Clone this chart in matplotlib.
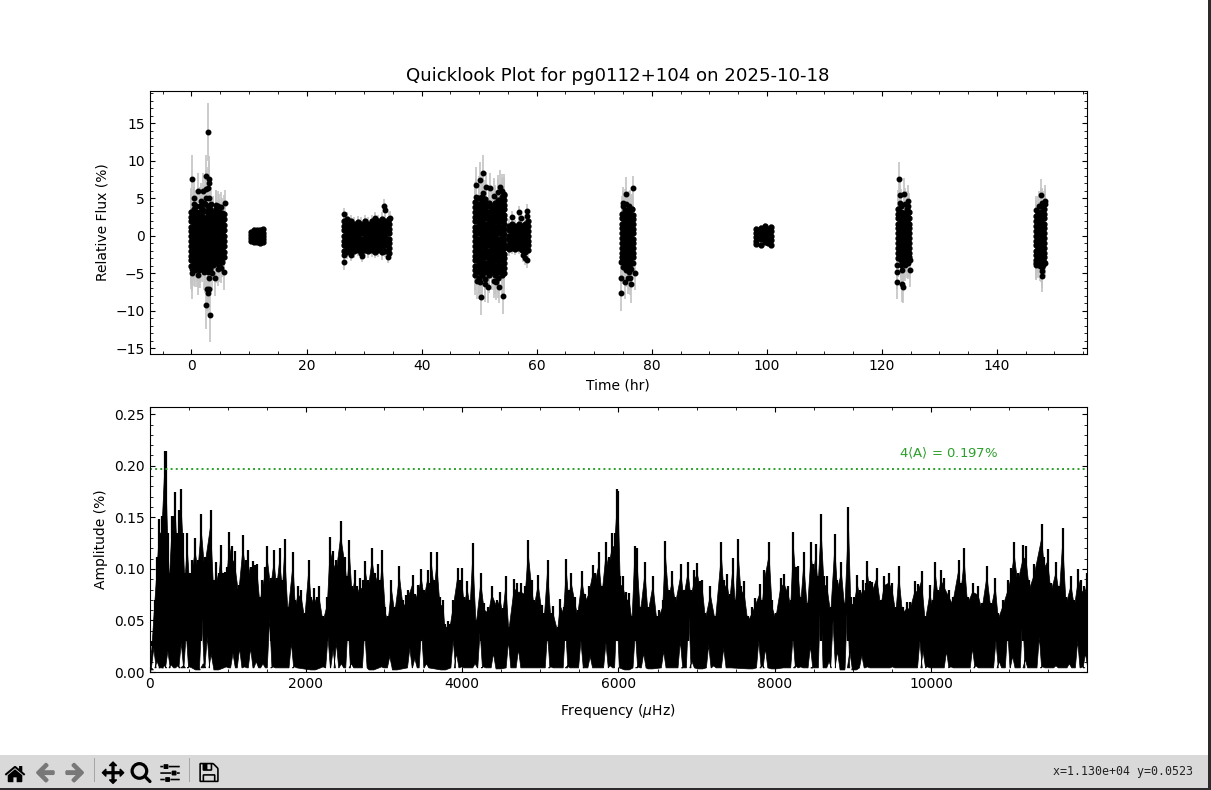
import os
import matplotlib
matplotlib.use('Agg')
import matplotlib.pyplot as plt
import matplotlib.image as mpimg
import numpy as np
from matplotlib.patches import Rectangle
from matplotlib.ticker import AutoMinorLocator

# Light curve (time column, fluxes in it, error in it)
r1_t = [0.0, 0.5, 1.0, 1.4, 1.9, 2.4, 2.9, 3.3, 3.8, 4.3, 4.8, 5.3, 5.7]
r1_e = [3.1, 2.4, 2.9, 2.6, 2.2, 3.3, 3.4, 2.5, 2.1, 2.6, 2.3, 2.0, 2.5]
r1_f = [
    [3.2, 2.5, 1.9, 1.2, 0.6, -0.1, -0.7, -1.4, -2.0, -2.7, -3.3, -4.0],
    [3.5, 2.9, 2.2, 1.6, 0.9, 0.3, -0.4, -1.0, -1.7, -2.3, -3.0, -3.6, -4.3],
    [3.2, 2.6, 1.9, 1.3, 0.6, 0.0, -0.7, -1.3, -2.0, -2.6, -3.3, -4.0],
    [3.9, 3.2, 2.2, 1.6, 0.9, 0.3, -0.4, -1.1, -1.7, -2.4, -3.0, -3.7, -4.4],
    [3.5, 2.6, 1.9, 1.3, 0.7, 0.0, -0.6, -1.3, -1.9, -2.6, -3.3, -4.0],
    [4.2, 3.3, 2.3, 1.6, 1.0, 0.3, -0.3, -1.0, -1.6, -2.3, -2.9, -3.6, -4.3],
    [4.0, 3.2, 2.6, 1.9, 1.3, 0.6, 0.0, -0.7, -1.3, -2.0, -2.6, -3.3, -3.9],
    [3.6, 2.9, 2.2, 1.6, 0.9, 0.3, -0.4, -1.0, -1.7, -2.3, -3.0, -3.6, -4.4],
    [3.2, 2.6, 1.9, 1.3, 0.6, 0.0, -0.7, -1.3, -2.0, -2.6, -3.3, -3.9],
    [3.5, 2.9, 2.2, 1.6, 0.9, 0.3, -0.4, -1.0, -1.7, -2.3, -3.0, -3.7],
    [3.2, 2.6, 1.9, 1.3, 0.6, 0.0, -0.7, -1.3, -2.0, -2.6, -3.3, -3.9],
    [3.0, 2.3, 1.7, 1.0, 0.4, -0.3, -0.9, -1.6, -2.2, -2.9, -3.5],
    [2.9, 2.2, 1.4, 0.7, 0.0, -0.7, -1.4, -2.2, -2.9],
]
r2_t = [10.4, 10.9, 11.4, 11.9, 12.4]
r2_e = [0.3, 0.3, 0.3, 0.3, 0.3]
r2_f = [
    [0.5, 0.1, -0.3, -0.7],
    [0.8, 0.4, -0.1, -0.6, -0.9],
    [0.7, 0.3, -0.1, -0.5, -0.8],
    [0.8, 0.3, 0.0, -0.5, -1.0],
    [0.9, 0.4, 0.0, -0.4, -0.9],
]
r3_t = [26.5, 27.1, 27.7, 28.3, 28.9, 29.5, 30.1, 30.7, 31.3, 31.9, 32.5, 33.1, 33.7, 34.3]
r3_e = [1.0, 0.9, 0.8, 0.9, 0.8, 0.9, 0.8, 0.9, 0.9, 0.8, 0.9, 1.0, 0.9, 0.9]
r3_f = [
    [2.0, 1.3, 0.7, 0.0, -0.7, -1.3, -2.0],
    [2.2, 1.6, 1.0, 0.3, -0.3, -1.0, -1.6, -2.2],
    [1.9, 1.3, 0.6, 0.0, -0.7, -1.3, -1.9],
    [1.6, 1.0, 0.3, -0.3, -1.0, -1.6, -2.1],
    [1.8, 1.2, 0.6, 0.0, -0.7, -1.3, -1.9],
    [1.6, 0.9, 0.3, -0.4, -1.0, -1.6, -2.3],
    [1.9, 1.3, 0.6, 0.0, -0.7, -1.3, -1.9],
    [1.6, 1.0, 0.3, -0.3, -1.0, -1.6, -2.1],
    [1.9, 1.3, 0.6, 0.0, -0.6, -1.3, -1.9],
    [2.2, 1.6, 0.9, 0.3, -0.4, -1.0, -1.6, -2.2],
    [1.9, 1.3, 0.6, 0.0, -0.7, -1.3, -1.9],
    [2.2, 1.6, 1.0, 0.3, -0.3, -1.0, -1.6, -2.2],
    [1.9, 1.3, 0.6, 0.0, -0.7, -1.3, -2.0],
    [2.2, 1.6, 0.9, 0.3, -0.4, -1.0, -1.7, -2.3],
]
r4_t = [49.3, 49.9, 50.5, 51.1, 51.7, 52.2, 52.8, 53.3, 53.9, 54.4]
r4_e = [2.6, 2.9, 3.0, 2.5, 2.4, 2.3, 2.5, 2.7, 2.6, 2.8]
r4_f = [
    [4.5, 3.8, 3.2, 2.5, 1.9, 1.2, 0.6, -0.1, -0.7, -1.4, -2.0, -2.7, -3.3, -4.0, -4.6, -5.3],
    [5.0, 4.2, 3.5, 2.9, 2.2, 1.6, 0.9, 0.3, -0.4, -1.0, -1.7, -2.3, -3.0, -3.6, -4.3, -4.9, -5.6],
    [5.2, 4.5, 3.9, 3.2, 2.6, 1.9, 1.3, 0.6, 0.0, -0.7, -1.3, -2.0, -2.6, -3.3, -3.9, -4.6, -5.3],
    [4.9, 4.2, 3.6, 2.9, 2.3, 1.6, 1.0, 0.3, -0.3, -1.0, -1.6, -2.3, -2.9, -3.6, -4.2, -4.9, -5.8],
    [4.4, 3.9, 3.2, 2.6, 1.9, 1.3, 0.6, 0.0, -0.7, -1.3, -2.0, -2.6, -3.3, -3.9, -4.6, -5.2],
    [4.0, 3.5, 2.9, 2.2, 1.6, 0.9, 0.3, -0.4, -1.0, -1.7, -2.3, -3.0, -3.6, -4.3, -4.9],
    [4.3, 3.8, 3.2, 2.5, 1.9, 1.2, 0.6, -0.1, -0.7, -1.4, -2.0, -2.7, -3.3, -4.0, -4.6, -5.3],
    [4.8, 4.2, 3.5, 2.9, 2.2, 1.6, 0.9, 0.3, -0.4, -1.0, -1.7, -2.3, -3.0, -3.6, -4.3, -4.9, -5.6],
    [5.1, 4.5, 3.8, 3.2, 2.5, 1.9, 1.2, 0.6, -0.1, -0.7, -1.4, -2.0, -2.7, -3.3, -4.0, -4.6, -5.2],
    [5.4, 4.8, 4.1, 3.5, 2.8, 2.2, 1.5, 0.9, 0.2, -0.4, -1.1, -1.7, -2.4, -3.0, -3.7, -4.3, -5.0],
]
r4b_t = [55.1, 55.7, 56.3, 56.9, 57.5, 58.0, 58.5]
r4b_e = [0.9, 0.8, 0.8, 0.9, 0.8, 0.9, 0.9]
r4b_f = [
    [1.3, 0.7, 0.0, -0.6, -1.3, -1.8],
    [1.6, 1.0, 0.3, -0.3, -1.0, -1.6],
    [1.3, 0.6, 0.0, -0.7, -1.3, -1.8],
    [1.6, 1.0, 0.3, -0.3, -1.0, -1.6],
    [1.3, 0.6, 0.0, -0.7, -1.3, -1.9],
    [1.6, 1.0, 0.3, -0.3, -1.0, -1.6, -2.2],
    [1.9, 1.3, 0.6, 0.0, -0.7, -1.3, -1.9],
]
r5_t = [74.8, 75.3, 75.8, 76.3, 76.8]
r5_e = [2.4, 2.8, 2.5, 2.7, 2.4]
r5_f = [
    [2.9, 2.3, 1.6, 1.0, 0.3, -0.3, -1.0, -1.6, -2.3, -2.9, -3.4],
    [3.4, 2.6, 1.9, 1.3, 0.6, 0.0, -0.7, -1.3, -2.0, -2.6, -3.3, -3.9],
    [3.3, 2.9, 2.3, 1.6, 1.0, 0.3, -0.3, -1.0, -1.6, -2.3, -2.9, -3.6, -4.2],
    [3.4, 2.6, 1.9, 1.3, 0.6, 0.0, -0.7, -1.3, -2.0, -2.6, -3.3, -3.8],
    [2.8, 2.2, 1.6, 0.9, 0.3, -0.4, -1.0, -1.7, -2.3, -2.9],
]
r6_t = [98.2, 98.9, 99.6, 100.2, 100.8]
r6_e = [0.4, 0.4, 0.4, 0.4, 0.4]
r6_f = [
    [0.9, 0.4, -0.2, -0.7, -1.1],
    [1.0, 0.5, 0.0, -0.5, -1.2],
    [1.3, 0.7, 0.1, -0.4, -0.9],
    [0.9, 0.4, -0.1, -0.6, -1.0],
    [1.2, 0.6, 0.0, -0.6, -1.2],
]
r7_t = [122.8, 123.3, 123.8, 124.3, 124.7]
r7_e = [2.5, 2.3, 2.6, 2.4, 2.6]
r7_f = [
    [3.6, 2.9, 2.3, 1.6, 1.0, 0.3, -0.3, -1.0, -1.6, -2.3, -3.0],
    [3.9, 3.2, 2.6, 1.9, 1.3, 0.6, 0.0, -0.7, -1.3, -2.0, -2.6, -3.3],
    [3.0, 2.3, 1.6, 1.0, 0.3, -0.3, -1.0, -1.6, -2.3, -2.9, -3.5],
    [3.5, 2.6, 1.9, 1.3, 0.6, 0.0, -0.7, -1.3, -2.0, -2.6, -3.2],
    [3.1, 2.3, 1.6, 1.0, 0.3, -0.3, -1.0, -1.6, -2.3, -2.9],
]
r8_t = [146.7, 147.2, 147.7, 148.2]
r8_e = [2.2, 2.1, 2.4, 2.3]
r8_f = [
    [2.6, 1.9, 1.3, 0.6, 0.0, -0.7, -1.3, -2.0, -2.6, -3.3, -3.7],
    [3.2, 2.3, 1.6, 1.0, 0.3, -0.3, -1.0, -1.6, -2.3, -2.9, -3.5],
    [3.9, 3.1, 2.6, 1.9, 1.3, 0.6, 0.0, -0.7, -1.3, -2.0, -2.6, -3.3, -3.8],
    [3.6, 2.9, 2.3, 1.6, 1.0, 0.3, -0.3, -1.0, -1.6, -2.3, -2.9, -3.5],
]
runs = [(r1_t, r1_f, r1_e), (r2_t, r2_f, r2_e), (r3_t, r3_f, r3_e), (r4_t, r4_f, r4_e),
        (r4b_t, r4b_f, r4b_e), (r5_t, r5_f, r5_e), (r6_t, r6_f, r6_e), (r7_t, r7_f, r7_e),
        (r8_t, r8_f, r8_e)]

# Points outside the dense part of each run
out_t = [0.05, 2.84, 2.55, 3.0, 3.0, 1.1, 1.97, 2.55, 2.84, 5.74, 0.4, 3.0, 4.3,
         0.05, 0.05, 1.1, 5.57, 4.0, 2.96, 3.1, 2.65, 2.84, 2.55, 3.18,
         26.5, 26.5, 26.5, 33.4, 33.6, 31.9, 27.7, 29.6, 34.1, 34.5,
         49.4, 50.1, 50.7, 51.2, 51.8, 53.7, 54.3, 50.4, 54.1, 51.5, 53.4,
         55.7, 56.9, 57.2, 58.3, 58.4, 57.6, 58.4, 58.0,
         76.8, 75.6, 75.0, 76.6, 74.7, 76.4, 77.0, 74.7, 75.3, 75.9, 76.3, 74.7, 75.6,
         123.0, 123.1, 123.9, 124.6, 122.7, 122.7, 123.5, 124.9, 124.8, 122.6, 123.5, 123.7,
         147.7, 148.4, 147.9, 147.9, 147.9]
out_f = [7.5, 13.8, 7.9, 7.6, 7.0, 5.9, 5.9, 6.2, 6.4, 4.3, 5.0, 5.0, 4.1,
         -5.0, -4.4, -5.2, -4.8, -5.7, -5.7, -7.1, -7.1, -7.6, -9.2, -10.6,
         2.9, -3.5, -2.6, 4.0, 3.4, 2.4, -2.6, -2.7, -2.8, 2.4,
         6.7, 7.4, 8.4, 6.5, 6.3, 6.5, 5.6, -8.2, -8.0, -6.9, -6.8,
         2.5, 3.1, 2.4, 3.3, 2.6, -2.6, -3.3, -3.0,
         6.3, 5.6, 4.3, 3.5, -7.7, -6.5, -5.0, -5.7, -6.2, -5.7, -5.7, -3.5, -4.4,
         7.6, 5.4, 5.5, 4.6, -3.9, -4.8, -4.6, -3.3, -4.6, -6.2, -6.5, -6.9,
         5.4, 4.6, -4.2, -4.7, -5.4]
out_e = [3.2, 3.9, 2.9, 3.0, 2.8, 2.4, 2.4, 2.6, 2.8, 1.8, 2.3, 2.5, 2.0,
         3.4, 3.0, 2.7, 2.4, 2.3, 2.5, 2.8, 2.9, 3.0, 3.2, 3.6,
         0.8, 1.1, 0.9, 0.9, 0.9, 0.8, 0.8, 0.8, 0.9, 0.9,
         2.4, 2.4, 2.3, 2.0, 2.1, 2.2, 2.2, 2.4, 2.4, 2.1, 2.2,
         0.8, 0.9, 0.8, 0.9, 0.9, 0.9, 1.0, 0.9,
         1.7, 2.2, 2.2, 2.0, 2.4, 2.5, 2.2, 2.1, 2.3, 2.1, 2.2, 2.0, 2.2,
         2.2, 2.2, 2.2, 2.2, 2.3, 2.3, 2.4, 2.3, 2.3, 2.2, 2.3, 2.1,
         2.1, 2.1, 2.2, 2.3, 2.1]

# Points on the top and bottom rim of the dense parts
rim_t = [0.4, 0.8, 1.6, 2.2, 2.6, 3.4, 4.6, 5.1, 1.3, 2.2, 2.9, 3.5, 4.6, 5.2, 0.6,
         49.6, 50.2, 51.0, 52.5, 53.0, 49.5, 50.7, 52.6, 53.2, 54.0,
         75.0, 75.6, 76.1, 76.5, 75.0, 75.5, 76.0, 76.4, 76.8, 75.9,
         123.2, 124.0, 124.5, 123.3, 124.0, 124.6,
         146.8, 147.3, 147.9, 148.3, 146.8, 147.4, 148.0, 148.3, 147.0]
rim_f = [4.2, 3.9, 4.6, 4.4, 5.0, 4.2, 3.9, 3.8, -4.6, -4.8, -4.9, -5.0, -4.5, -4.3, -4.6,
         -6.0, -6.2, -6.4, -6.0, -6.2, 5.2, 5.7, 5.3, 5.8, 5.9,
         3.9, 4.2, 3.9, 3.6, -4.2, -4.6, -4.8, -4.5, -3.6, -4.3,
         4.4, 4.2, 3.9, -3.9, -3.9, -3.7,
         3.4, 3.9, 4.3, 4.2, -3.9, -4.0, -3.9, -3.6, -3.2]
rim_e = [2.3, 2.2, 2.4, 2.3, 2.5, 2.3, 2.1, 2.0, 2.4, 2.5, 2.4, 2.3, 2.2, 2.0, 2.3,
         2.5, 2.4, 2.4, 2.3, 2.4, 2.5, 2.4, 2.4, 2.3, 2.3,
         2.1, 2.2, 2.1, 2.0, 2.3, 2.3, 2.4, 2.2, 2.0, 2.2,
         2.2, 2.1, 2.0, 2.1, 2.2, 2.1,
         1.9, 2.0, 2.1, 2.0, 1.9, 2.0, 1.9, 1.8, 1.8]

# Amplitude spectrum: upper and lower outline of the black band
freq_top = [0, 30, 64, 98, 124, 158, 192, 209, 235, 252, 286, 312, 329, 350, 380, 406, 431, 453, 482, 512,
            546, 585, 619, 662, 704, 781, 820, 854, 884, 909, 939, 961, 991, 1021, 1054, 1089, 1140, 1196,
            1230, 1260, 1294, 1324, 1354, 1379, 1413, 1439, 1473, 1507, 1550, 1593, 1627, 1665, 1700, 1729,
            1772, 1836, 1866, 1900, 1943, 1986, 2037, 2071, 2105, 2139, 2165, 2220, 2276, 2310, 2349, 2391,
            2447, 2507, 2528, 2558, 2592, 2626, 2656, 2690, 2729, 2763, 2797, 2848, 2890, 2925, 2950, 2976,
            3019, 3053, 3096, 3138, 3198, 3245, 3288, 3309, 3365, 3395, 3429, 3480, 3514, 3557, 3583, 3608,
            3643, 3676, 3715, 3758, 3779, 3813, 3843, 3886, 3941, 3967, 3993,
            4025, 4068, 4102, 4136, 4179, 4239, 4281, 4337, 4380, 4444, 4486, 4520, 4559, 4597, 4666, 4708,
            4755, 4807, 4845, 4892, 4922, 4973, 5020, 5050, 5093, 5135, 5161, 5221, 5255, 5298, 5332, 5362,
            5396, 5447, 5477, 5533, 5575, 5618, 5669, 5703, 5750, 5789, 5840, 5874, 5921, 5951, 5981, 5998,
            6024, 6054, 6096, 6139, 6173, 6207, 6237, 6280, 6340, 6378, 6442, 6493, 6523, 6566, 6600, 6643,
            6690, 6728, 6801, 6835, 6890, 6929, 6972, 7010, 7048, 7074, 7113, 7177, 7240, 7317, 7347, 7390,
            7424, 7463, 7497, 7531, 7570, 7604, 7655, 7710, 7753, 7813, 7838, 7868, 7928, 7966, 8012,
            8076, 8119, 8174, 8204, 8238, 8268, 8302, 8332, 8371, 8418, 8465, 8494, 8524, 8554, 8593, 8631,
            8665, 8716, 8768, 8802, 8853, 8896, 8943, 8973, 9015, 9058, 9088, 9131, 9165, 9182, 9216, 9250,
            9305, 9357, 9400, 9464, 9506, 9549, 9588, 9635, 9686, 9733, 9797, 9827, 9878, 9925, 9985, 10019,
            10053, 10091, 10126, 10168, 10232, 10275, 10352, 10382, 10424, 10467, 10531, 10600, 10651, 10715,
            10766, 10822, 10860, 10916, 10988, 11022, 11065, 11108, 11180, 11214, 11257, 11321, 11415, 11449,
            11492, 11534, 11598, 11641, 11684, 11727, 11791, 11834, 11885, 11919, 11962, 12000]
amp_top = [0.0, 0.025, 0.070, 0.112, 0.148, 0.151, 0.214, 0.214, 0.135, 0.096, 0.151, 0.151, 0.175, 0.135, 0.157,
           0.177, 0.135, 0.096, 0.135, 0.096, 0.109, 0.130, 0.109, 0.153, 0.112, 0.157, 0.089, 0.107, 0.096,
           0.123, 0.096, 0.097, 0.102, 0.136, 0.122, 0.117, 0.084, 0.133, 0.109, 0.118, 0.102, 0.108, 0.104,
           0.105, 0.073, 0.089, 0.102, 0.122, 0.091, 0.118, 0.091, 0.120, 0.089, 0.129, 0.063, 0.116, 0.070,
           0.083, 0.080, 0.057, 0.109, 0.073, 0.081, 0.073, 0.083, 0.054, 0.073, 0.131, 0.117, 0.109, 0.146,
           0.112, 0.093, 0.128, 0.083, 0.099, 0.083, 0.091, 0.089, 0.108, 0.089, 0.120, 0.096, 0.105, 0.089,
           0.118, 0.063, 0.054, 0.089, 0.063, 0.103, 0.070, 0.075, 0.080, 0.094, 0.076, 0.084, 0.100, 0.080,
           0.099, 0.086, 0.116, 0.089, 0.116, 0.073, 0.070, 0.047, 0.049, 0.047, 0.070, 0.101, 0.089, 0.101,
           0.073, 0.088, 0.070, 0.125, 0.050, 0.096, 0.067, 0.063, 0.083, 0.070, 0.078, 0.062, 0.093, 0.044,
           0.090, 0.086, 0.086, 0.083, 0.128, 0.089, 0.070, 0.094, 0.065, 0.057, 0.109, 0.057, 0.064, 0.044,
           0.071, 0.063, 0.110, 0.080, 0.096, 0.073, 0.060, 0.098, 0.076, 0.083, 0.104, 0.096, 0.116, 0.083,
           0.126, 0.112, 0.135, 0.135, 0.177, 0.176, 0.093, 0.093, 0.078, 0.077, 0.054, 0.122, 0.120, 0.063,
           0.107, 0.063, 0.093, 0.054, 0.060, 0.070, 0.127, 0.080, 0.098, 0.073, 0.105, 0.080, 0.107, 0.080,
           0.099, 0.106, 0.088, 0.089, 0.057, 0.083, 0.054, 0.126, 0.089, 0.095, 0.076, 0.111, 0.070, 0.129,
           0.083, 0.088, 0.054, 0.063, 0.072, 0.085, 0.070, 0.099, 0.126, 0.070, 0.057,
           0.091, 0.095, 0.083, 0.070, 0.136, 0.102, 0.103, 0.073, 0.116, 0.067, 0.126, 0.105, 0.124, 0.093,
           0.153, 0.093, 0.093, 0.063, 0.134, 0.089, 0.107, 0.067, 0.160, 0.073, 0.073, 0.094, 0.080, 0.089,
           0.086, 0.108, 0.088, 0.087, 0.101, 0.070, 0.093, 0.096, 0.086, 0.063, 0.103, 0.063, 0.068, 0.068,
           0.088, 0.085, 0.098, 0.054, 0.084, 0.070, 0.107, 0.080, 0.099, 0.091, 0.080, 0.073, 0.109, 0.086,
           0.120, 0.073, 0.086, 0.083, 0.067, 0.103, 0.067, 0.091, 0.057, 0.070, 0.089, 0.101, 0.126, 0.096,
           0.123, 0.122, 0.089, 0.105, 0.144, 0.112, 0.119, 0.086, 0.107, 0.083, 0.140, 0.073, 0.093, 0.070,
           0.100, 0.089, 0.083, 0.096]
freq_low = [21, 55, 98, 149, 192, 235, 278, 363, 406, 431, 470, 512, 619, 670, 688, 739, 790, 854, 982,
            1068, 1153, 1217, 1294, 1366, 1452, 1537, 1580, 1751, 1815, 1857, 2092, 2220, 2284, 2349, 2391,
            2455, 2541, 2583, 2754, 2840, 2968, 3074, 3138, 3331, 3395, 3480, 3544, 3758, 3886, 3929, 3993,
            4166, 4230, 4273, 4401, 4465, 4593, 4721, 4828, 5093, 5135, 5323, 5349, 5520, 5575, 5639, 5767,
            5840, 5896, 5981, 6109, 6216, 6246, 6323, 6408, 6579, 6643, 6792, 6835, 6899, 6942, 7048,
            7155, 7219, 7347, 7411, 7689, 7796, 7838, 7881, 7988, 8140, 8234, 8268, 8332, 8456, 8490,
            8588, 8695, 8746, 8802, 8866, 8930, 8960, 9015, 9114, 9186, 9506, 9635, 9857, 9899, 9955,
            10198, 10254, 10531, 10574, 10830, 10873, 10980, 11044, 11172, 11206, 11385, 11428, 11598, 11769,
            11876, 11940, 11975]
amp_low = [0.002, 0.023, 0.010, 0.004, 0.006, 0.020, 0.007, 0.006, 0.028, 0.006, 0.038, 0.005, 0.002, 0.054,
           0.008, 0.034, 0.017, 0.002, 0.005, 0.018, 0.023, 0.005, 0.023, 0.010, 0.008, 0.052, 0.005, 0.004,
           0.028, 0.005, 0.002, 0.005, 0.034, 0.021, 0.028, 0.008, 0.047, 0.008, 0.040, 0.002, 0.005, 0.015,
           0.002, 0.023, 0.013, 0.041, 0.008, 0.002, 0.031, 0.018, 0.005,
           0.008, 0.040, 0.005, 0.018, 0.003, 0.030, 0.022, 0.004, 0.038, 0.005, 0.044, 0.006, 0.030, 0.004,
           0.015, 0.004, 0.028, 0.006, 0.058, 0.002, 0.039, 0.005, 0.018, 0.003, 0.020, 0.004, 0.030,
           0.004, 0.060, 0.010, 0.003, 0.026, 0.006, 0.023, 0.004, 0.003, 0.030, 0.006, 0.023, 0.003,
           0.004, 0.034, 0.006, 0.005, 0.025, 0.004, 0.080, 0.010, 0.050, 0.020, 0.002, 0.070,
           0.020, 0.002, 0.016, 0.005, 0.005, 0.004, 0.030, 0.020, 0.005, 0.020, 0.005, 0.023, 0.006, 0.030,
           0.010, 0.041, 0.015, 0.057, 0.012, 0.034, 0.005, 0.006, 0.008, 0.030, 0.005, 0.018]

threshold = 0.197

plt.rcParams.update({'xtick.direction': 'in', 'ytick.direction': 'in',
                     'xtick.top': True, 'ytick.right': True})

fig = plt.figure(figsize=(12.11, 7.90), dpi=100)
W, H = 1211.0, 790.0
ax1 = fig.add_axes([149.5 / W, (H - 354) / H, 937.5 / W, 263 / H])
ax2 = fig.add_axes([149.5 / W, (H - 672) / H, 937.5 / W, 265 / H])

# Top panel
grey = '#c4c4c4'
for run_t, run_f, run_e in runs:
    t = np.concatenate([[a] * len(col) for a, col in zip(run_t, run_f)])
    e = np.concatenate([[a] * len(col) for a, col in zip(run_e, run_f)])
    f = np.concatenate(run_f)
    ax1.errorbar(t, f, yerr=e, fmt='none', ecolor=grey, elinewidth=1.2, zorder=2)
    ax1.plot(t, f, 'k.', ms=7, zorder=3)
for px_t, px_f, px_e in [(out_t, out_f, out_e), (rim_t, rim_f, rim_e)]:
    ax1.errorbar(px_t, px_f, yerr=px_e, fmt='none', ecolor=grey, elinewidth=1.2, zorder=2)
    ax1.plot(px_t, px_f, 'k.', ms=6.5, zorder=3)
ax1.set_xlim(-7.3, 155.65)
ax1.set_ylim(-15.8, 19.27)
ax1.set_xlabel('Time (hr)')
ax1.set_ylabel('Relative Flux (%)')
ax1.set_title('Quicklook Plot for pg0112+104 on 2025-10-18', fontsize=13.05, pad=7)

# Bottom panel: band body, then a narrow spike at every outline value
low_x, low_y = [0], [0.0]
for f, a in zip(freq_low, amp_low):
    low_x += [f - 30, f, f + 30]
    low_y += [min(a, 0.004), a, min(a, 0.004)]
ax2.fill(np.r_[freq_top, low_x[::-1]], np.r_[0.9 * np.array(amp_top), low_y[::-1]],
         facecolor='k', edgecolor='k', lw=0.5)
ax2.vlines(freq_top, 0.03, amp_top, color='k', lw=1.6)
ax2.axhline(threshold, color='#2ca02c', ls=':', lw=1.4)
ax2.text(9590, 0.2115, r'4$\langle$A$\rangle$ = 0.197%', color='#2ca02c', va='center', fontsize=9.5)
ax2.set_xlim(0, 11995)
ax2.set_ylim(0, 0.257)
ax2.set_xlabel(r'Frequency ($\mu$Hz)', labelpad=8)
ax2.set_ylabel('Amplitude (%)')

for ax in (ax1, ax2):
    ax.xaxis.set_minor_locator(AutoMinorLocator())
    ax.yaxis.set_minor_locator(AutoMinorLocator())
    ax.tick_params(which='both', top=True, right=True)
ax1.xaxis.set_minor_locator(AutoMinorLocator(4))

# Window toolbar along the bottom, with the dark window edge
fig.add_artist(Rectangle((0, 0), 1, 35 / H, transform=fig.transFigure, facecolor='#d9d9d9', edgecolor='none'))
fig.add_artist(Rectangle((0, 0), 1, 2 / H, transform=fig.transFigure, facecolor='#2b2b2b', edgecolor='none'))
fig.add_artist(Rectangle((1208 / W, 0), 3 / W, 1, transform=fig.transFigure, facecolor='#2b2b2b', edgecolor='none'))
for sep_x in (94, 189):
    fig.add_artist(Rectangle((sep_x / W, 8 / H), 1 / W, 24 / H, transform=fig.transFigure,
                             facecolor='#a6a6a6', edgecolor='none'))
img_dir = os.path.join(matplotlib.get_data_path(), 'images')
icons = [('home', 3, 1.0), ('back', 33, 0.45), ('forward', 63, 0.45), ('move', 101, 1.0),
         ('zoom_to_rect', 129, 1.0), ('subplots', 158, 1.0), ('filesave', 197, 1.0)]
for name, ix, alpha in icons:
    img = mpimg.imread(os.path.join(img_dir, name + '.png'))
    fig.figimage(img, xo=ix, yo=6, origin='upper', zorder=5, alpha=alpha)
fig.text(1193 / W, 18 / H, 'x=1.130e+04 y=0.0523', family='DejaVu Sans Mono', fontsize=8.4,
         ha='right', va='center', color='#222222')

fig.savefig('out.png', dpi=100)
